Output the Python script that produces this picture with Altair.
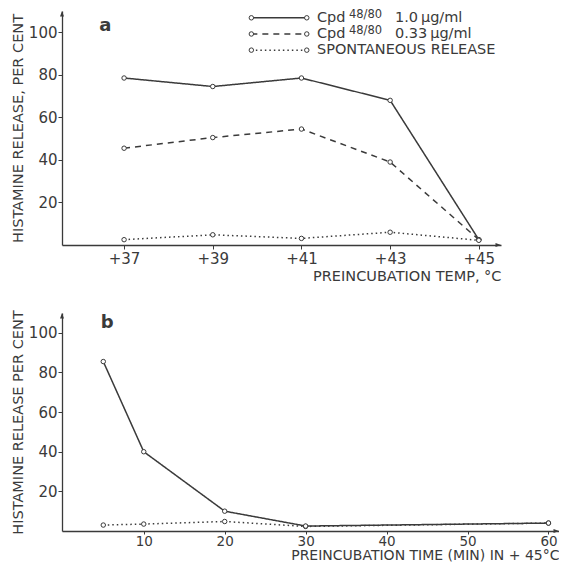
import altair as alt
import pandas as pd

# ---- data ----
temps = [37, 39, 41, 43, 45]
a_high = [78.5, 74.5, 78.5, 68, 2.5]
a_low = [45.5, 50.5, 54.5, 39, 2.5]
a_spont = [2.5, 4.8, 3.1, 6.0, 2.2]

times = [5, 10, 20, 30, 60]
b_high = [85.5, 40, 10, 2.5, 4]
b_spont = [3, 3.5, 4.8, 2.3, 4]

y_ticks = [20, 40, 60, 80, 100]
time_ticks = [10, 20, 30, 40, 50, 60]

legend_labels = ["Cpd", "Cpd", "SPONTANEOUS RELEASE"]
legend_sup = ["48/80", "48/80", ""]
legend_conc = ["1.0\u2009\u03bcg/ml", "0.33\u2009\u03bcg/ml", ""]

INK = "#3a3a3a"
FONT = "DejaVu Sans"

A_X = [35.6, 45.5]
A_Y = [0, 110]
B_X = [-0.1, 61.3]
B_Y = [0, 110]

DASHES = {"high": [1, 0], "low": [6, 5], "spont": [1.5, 3]}


def series_layers(xs, ys, key, xscale, yscale, xname):
    df = pd.DataFrame({xname: xs, "v": ys})
    base = alt.Chart(df).encode(
        x=alt.X(f"{xname}:Q", scale=xscale),
        y=alt.Y("v:Q", scale=yscale),
    )
    line = base.mark_line(color=INK, strokeWidth=1.5, strokeDash=DASHES[key])
    pts = base.mark_point(shape="circle", size=20, filled=True, fill="white",
                          stroke=INK, strokeWidth=1, opacity=1)
    return [line, pts]


def arrows(xname, xdom, ydom, xs, ys):
    up = alt.Chart(pd.DataFrame({xname: [xdom[0]], "v": [ydom[1]]})).mark_point(
        shape="M0,0L-0.4,1.1L0.4,1.1Z", size=100, filled=True, color=INK, opacity=1
    ).encode(x=alt.X(f"{xname}:Q", scale=xs), y=alt.Y("v:Q", scale=ys))
    rt = alt.Chart(pd.DataFrame({xname: [xdom[1]], "v": [ydom[0]]})).mark_point(
        shape="M0,0L-1.1,-0.4L-1.1,0.4Z", size=100, filled=True, color=INK, opacity=1
    ).encode(x=alt.X(f"{xname}:Q", scale=xs), y=alt.Y("v:Q", scale=ys))
    return [up, rt]


axis_base = dict(grid=False, domainColor=INK, tickColor=INK, labelColor=INK,
                 titleColor=INK, labelFont=FONT, titleFont=FONT,
                 labelFontSize=15, titleFontSize=14.5, titleFontWeight="normal",
                 tickSize=4, domainWidth=1.3)

# ---------- panel a ----------
xs_a = alt.Scale(domain=A_X, nice=False, zero=False)
ys_a = alt.Scale(domain=A_Y, nice=False)

frame_a = alt.Chart(pd.DataFrame({"t": temps, "v": a_high})).mark_point(opacity=0).encode(
    x=alt.X("t:Q", scale=xs_a,
            axis=alt.Axis(values=temps, labelExpr="'+' + datum.value",
                          title="PREINCUBATION TEMP, \u00b0C", titleAnchor="end",
                          titlePadding=3, labelPadding=2, **axis_base)),
    y=alt.Y("v:Q", scale=ys_a,
            axis=alt.Axis(values=y_ticks, title="HISTAMINE RELEASE, PER CENT",
                          titlePadding=3, labelPadding=1, **axis_base)),
)

layers_a = [frame_a]
layers_a += series_layers(temps, a_high, "high", xs_a, ys_a, "t")
layers_a += series_layers(temps, a_low, "low", xs_a, ys_a, "t")
layers_a += series_layers(temps, a_spont, "spont", xs_a, ys_a, "t")
layers_a += arrows("t", A_X, A_Y, xs_a, ys_a)

label_a = alt.Chart(pd.DataFrame({"t": [36.44], "v": [103]})).mark_text(
    text="a", font=FONT, fontSize=18, fontWeight="bold", color=INK, align="left"
).encode(x=alt.X("t:Q", scale=xs_a), y=alt.Y("v:Q", scale=ys_a))
layers_a.append(label_a)

# legend built from marks
leg_rows = [106.8, 99.2, 91.6]
leg_x0, leg_x1, leg_tx = 39.87, 41.12, 41.35
leg_keys = ["high", "low", "spont"]
for i, key in enumerate(leg_keys):
    layers_a += series_layers([leg_x0, leg_x1], [leg_rows[i]] * 2, key, xs_a, ys_a, "t")
    tdf = pd.DataFrame({"t": [leg_tx], "v": [leg_rows[i]]})
    enc = dict(x=alt.X("t:Q", scale=xs_a), y=alt.Y("v:Q", scale=ys_a))
    layers_a.append(alt.Chart(tdf).mark_text(
        text=legend_labels[i], font=FONT, fontSize=14.5, color=INK, align="left",
        baseline="middle").encode(**enc))
    if legend_sup[i]:
        layers_a.append(alt.Chart(tdf).mark_text(
            text=legend_sup[i], font=FONT, fontSize=11.5, color=INK, align="left",
            baseline="middle", dx=32, dy=-3).encode(**enc))
        layers_a.append(alt.Chart(tdf).mark_text(
            text=legend_conc[i], font=FONT, fontSize=14.5, color=INK, align="left",
            baseline="middle", dx=78).encode(**enc))

panel_a = alt.layer(*layers_a).properties(width=439, height=234)

# ---------- panel b ----------
xs_b = alt.Scale(domain=B_X, nice=False, zero=False)
ys_b = alt.Scale(domain=B_Y, nice=False)

axis_b = dict(axis_base)
axis_b.update(labelFontSize=13.5, titleFontSize=14, tickSize=3)

frame_b = alt.Chart(pd.DataFrame({"m": times, "v": b_high})).mark_point(opacity=0).encode(
    x=alt.X("m:Q", scale=xs_b,
            axis=alt.Axis(values=time_ticks,
                          title="PREINCUBATION TIME (MIN) IN + 45\u00b0C",
                          titleAnchor="end", titlePadding=1, labelPadding=0, **axis_b)),
    y=alt.Y("v:Q", scale=ys_b,
            axis=alt.Axis(values=y_ticks, title="HISTAMINE RELEASE PER CENT",
                          titlePadding=3, labelPadding=1, **axis_base)),
)
layers_b = [frame_b]
layers_b += series_layers(times, b_spont, "spont", xs_b, ys_b, "m")
layers_b += series_layers(times, b_high, "high", xs_b, ys_b, "m")
layers_b += arrows("m", B_X, B_Y, xs_b, ys_b)
label_b = alt.Chart(pd.DataFrame({"m": [4.7], "v": [105]})).mark_text(
    text="b", font=FONT, fontSize=18, fontWeight="bold", color=INK, align="left"
).encode(x=alt.X("m:Q", scale=xs_b), y=alt.Y("v:Q", scale=ys_b))
layers_b.append(label_b)

panel_b = alt.layer(*layers_b).properties(width=497, height=218)

chart = alt.vconcat(panel_a, panel_b, spacing=26).configure_view(stroke=None).properties(
    background="white", padding={"left": 2, "top": 0, "right": 0, "bottom": 0}
)

chart.save("out.html", embed_options={"renderer": "svg", "actions": False})
